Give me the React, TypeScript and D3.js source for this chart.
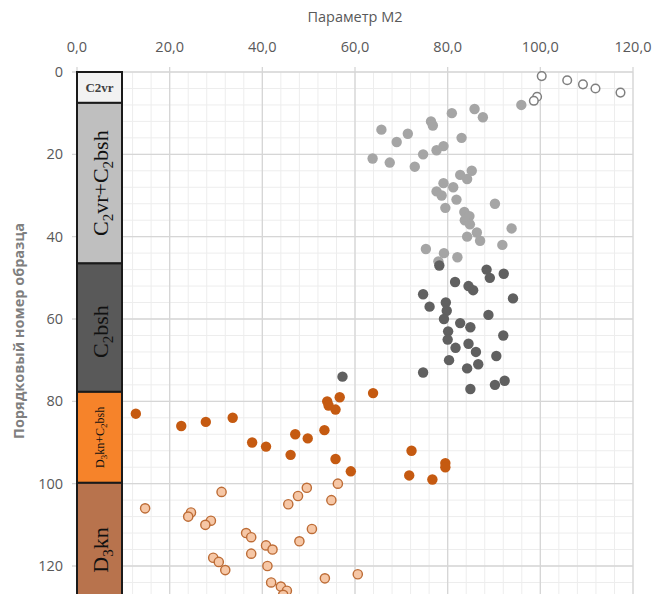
import React from 'react';
import * as d3 from 'd3';

// sample numbers and parameter M2 values, one pair of arrays per unit
const c2vrN = [1, 2, 3, 4, 5, 6, 7];
const c2vrM2 = [100.3, 105.8, 109.2, 111.9, 117.3, 99.3, 98.6];

const c2vrBshN = d3.range(8, 47);
const c2vrBshM2 = [95.9, 85.8, 80.9, 87.6, 76.4, 76.8, 65.7, 71.4, 83.0, 69.0, 79.1, 77.6, 74.7, 63.8, 67.5,
  72.9, 85.2, 82.7, 84.2, 79.1, 81.2, 77.6, 78.7, 81.9, 90.2, 79.5, 83.6, 84.7, 83.7, 84.8, 93.8, 86.3,
  84.2, 87.0, 91.8, 75.3, 79.2, 82.1, 78.0];

const c2bshN = d3.range(47, 78);
const c2bshM2 = [78.2, 88.4, 92.1, 89.1, 81.6, 84.5, 85.5, 74.7, 94.1, 79.6, 76.1, 79.8, 88.8, 79.2, 82.7,
  84.9, 80.1, 92.0, 80.0, 84.5, 81.7, 86.1, 90.5, 80.3, 86.6, 84.2, 74.7, 57.3, 92.3, 90.2, 84.9];

const d3knBshN = d3.range(78, 100);
const d3knBshM2 = [63.9, 56.7, 54.0, 54.3, 55.8, 12.7, 33.6, 27.8, 22.5, 53.4, 47.1, 49.8, 37.8, 40.8, 72.2,
  46.1, 55.8, 79.5, 79.5, 59.1, 71.7, 76.7];

const d3knN = d3.range(100, 128);
const d3knM2 = [56.3, 49.6, 31.2, 47.7, 54.9, 45.6, 14.7, 24.6, 24.0, 28.9, 27.7, 50.7, 36.5, 37.6, 48.0,
  40.8, 42.2, 37.6, 29.4, 30.6, 41.1, 32.0, 60.6, 53.5, 41.9, 44.0, 45.3, 44.5];

// stratigraphic column: unit boundaries in sample numbers
const unitTops = [0, 7.5, 46.5, 77.7, 99.8];
const unitBottoms = [7.5, 46.5, 77.7, 99.8, 130];

const xTicks = [0, 20, 40, 60, 80, 100, 120];
const yTicks = [0, 20, 40, 60, 80, 100, 120];

const W = 667, H = 594;
const left = 77, right = 633, top = 72;

const sans = '"Open Sans", sans-serif';
const serif = '"Liberation Serif", "DejaVu Serif", serif';

const App = () => {
  const x = d3.scaleLinear().domain([0, 120]).range([left, right]);
  const y = d3.scaleLinear().domain([0, 120]).range([top, 566]);
  const yMax = 130;

  const minorX = d3.range(0, 121, 4);
  const minorY = d3.range(0, yMax + 1, 4);

  const series = [
    { n: c2vrN, v: c2vrM2, fill: '#ffffff', stroke: '#7f7f7f', r: 4.3, sw: 1.5 },
    { n: c2vrBshN, v: c2vrBshM2, fill: '#a5a5a5', stroke: 'none', r: 5.2, sw: 0 },
    { n: c2bshN, v: c2bshM2, fill: '#606060', stroke: 'none', r: 5.2, sw: 0 },
    { n: d3knBshN, v: d3knBshM2, fill: '#c55a11', stroke: 'none', r: 5.2, sw: 0 },
    { n: d3knN, v: d3knM2, fill: '#f6c7a6', stroke: '#bd6c36', r: 4.6, sw: 1.4 },
  ];

  const boxFills = ['#f2f2f2', '#bfbfbf', '#595959', '#f6832a', '#b8734d'];
  const boxL = 77, boxR = 122;
  const cx = (boxL + boxR) / 2;
  const mid = (i) => (y(unitTops[i]) + Math.min(y(unitBottoms[i]), H)) / 2;

  return (
    <div style={{ position: 'absolute', left: 0, top: 0 }}>
      <svg width={W} height={H} style={{ display: 'block', background: '#fff' }}>
        {/* minor grid */}
        {minorX.map(d => (
          <line key={'mx' + d} x1={x(d)} x2={x(d)} y1={top} y2={H} stroke="#ededed" strokeWidth={1} />
        ))}
        {minorY.map(d => (
          <line key={'my' + d} x1={left} x2={right} y1={y(d)} y2={y(d)} stroke="#ededed" strokeWidth={1} />
        ))}
        {/* major grid */}
        {xTicks.map(d => (
          <line key={'gx' + d} x1={x(d)} x2={x(d)} y1={top - 5} y2={H} stroke="#d6d6d6" strokeWidth={1.3} />
        ))}
        {yTicks.map(d => (
          <line key={'gy' + d} x1={left - 5} x2={right} y1={y(d)} y2={y(d)} stroke="#d6d6d6" strokeWidth={1.3} />
        ))}

        {/* tick labels */}
        {xTicks.map(d => (
          <text key={'tx' + d} x={x(d)} y={52} textAnchor="middle" fontFamily={sans} fontSize={14.5} fill="#595959">
            {d3.format('.1f')(d).replace('.', ',')}
          </text>
        ))}
        {yTicks.map(d => (
          <text key={'ty' + d} x={63} y={y(d) + 5} textAnchor="end" fontFamily={sans} fontSize={14.5} fill="#595959">
            {d}
          </text>
        ))}
        <text x={355} y={22} textAnchor="middle" fontFamily={sans} fontSize={14.5} fill="#595959">Параметр М2</text>
        <text transform={`translate(24,331) rotate(-90)`} textAnchor="middle" fontFamily={sans} fontSize={14.5}
          fontWeight="bold" fill="#7f7f7f">Порядковый номер образца</text>

        {/* points */}
        {series.map((s, si) => (
          <g key={'s' + si}>
            {s.n.map((n, i) => (
              <circle key={i} cx={x(s.v[i])} cy={y(n)} r={s.r} fill={s.fill} stroke={s.stroke} strokeWidth={s.sw} />
            ))}
          </g>
        ))}

        {/* stratigraphic column */}
        {unitTops.map((t, i) => (
          <rect key={'b' + i} x={boxL} y={y(t)} width={boxR - boxL}
            height={Math.min(y(unitBottoms[i]), H + 10) - y(t)} fill={boxFills[i]} stroke="#1a1a1a" strokeWidth={2} />
        ))}
        <text x={cx} y={mid(0) + 4.5} textAnchor="middle" fontFamily={serif} fontSize={13} fontWeight="bold" fill="#404040">C2vr</text>
        <text transform={`translate(${cx + 8},${mid(1)}) rotate(-90)`} textAnchor="middle" fontFamily={serif}
          fontSize={22} fill="#111">
          C<tspan dy={5} fontSize={15}>2</tspan><tspan dy={-5}>vr+C</tspan><tspan dy={5} fontSize={15}>2</tspan><tspan dy={-5}>bsh</tspan>
        </text>
        <text transform={`translate(${cx + 8},${mid(2) + 4}) rotate(-90)`} textAnchor="middle" fontFamily={serif}
          fontSize={22} fill="#111">
          C<tspan dy={5} fontSize={15}>2</tspan><tspan dy={-5}>bsh</tspan>
        </text>
        <text transform={`translate(${cx + 4},${mid(3)}) rotate(-90)`} textAnchor="middle" fontFamily={serif}
          fontSize={12} fill="#111">
          D<tspan dy={3} fontSize={9}>3</tspan><tspan dy={-3}>kn+C</tspan><tspan dy={3} fontSize={9}>2</tspan><tspan dy={-3}>bsh</tspan>
        </text>
        <text transform={`translate(${cx + 8},${550}) rotate(-90)`} textAnchor="middle" fontFamily={serif}
          fontSize={22} fill="#111">
          D<tspan dy={5} fontSize={15}>3</tspan><tspan dy={-5}>kn</tspan>
        </text>
      </svg>
    </div>
  );
};

export default App;
